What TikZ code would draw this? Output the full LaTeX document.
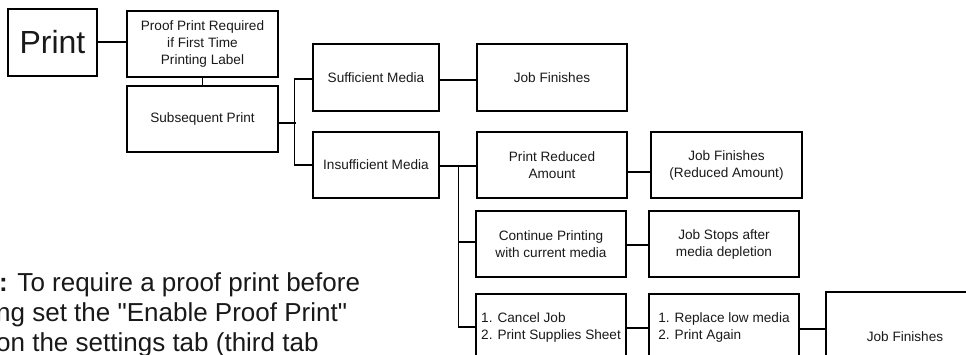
\documentclass[tikz,border=0pt]{standalone}
\usepackage{fontspec}
\setmainfont{Liberation Sans}
\begin{document}
\begin{tikzpicture}[x=1pt,y=-1pt,
  box/.style={draw,line width=1.2pt,inner sep=0pt,minimum width=150pt,minimum height=66pt,align=center,font=\fontsize{13.6}{17}\selectfont,text=black!90},
  conn/.style={line width=1.2pt},
  notetext/.style={anchor=base west,inner sep=0pt,font=\fontsize{26}{30}\selectfont,text=black!90}]
\useasboundingbox (0,0) rectangle (966,354);
\clip (0,0) rectangle (966,354);

\node[box,minimum width=89pt,minimum height=67pt,font=\fontsize{32}{36}\selectfont] (print) at (52.5,42.5) {Print};
\node[box,minimum width=151pt] (proof) at (202.5,44) {Proof Print Required\\if First Time\\ Printing Label};
\node[box,minimum width=151pt] (subs) at (202.5,119) {Subsequent Print};
\node[box,minimum width=126pt,minimum height=67pt] (suff) at (376,77.5) {Sufficient Media};
\node[box,minimum height=67pt] (jf1) at (552,77.5) {Job Finishes};
\node[box,minimum width=126pt] (insuff) at (376,165) {Insufficient Media};
\node[box] (reduced) at (552,165) {Print Reduced\\Amount};
\node[box,minimum width=151pt] (jfred) at (726.5,165) {Job Finishes\\(Reduced Amount)};
\node[box] (cont) at (551,244) {Continue Printing\\with current media};
\node[box] (stops) at (724,244) {Job Stops after\\media depletion};
\node[box,align=left] (cancel) at (551,327) {1. Cancel Job\\2. Print Supplies Sheet};
\node[box,align=left] (replace) at (724,327) {1. Replace low media\\2. Print Again};
\node[box,minimum width=158pt,minimum height=90pt] (jf3) at (905,337) {Job Finishes};

% connectors
\draw[conn] ([yshift=0.5pt]print.east) -- ([yshift=0.5pt]print.east -| proof.west);
\draw[conn] (proof.south) -- (subs.north);
\draw[conn] ([yshift=-4pt]subs.east) -- ++(17,0) coordinate (b1);
\draw[conn] ([yshift=-1.5pt]suff.west) -- ++(-18,0) coordinate (b1t) -- (b1t |- insuff.west) -- (insuff.west);
\draw[conn] ([yshift=-2.5pt]suff.east) -- ([yshift=-2.5pt]jf1.west);
\draw[conn] ([yshift=-1pt]insuff.east) -- ([yshift=-1pt]reduced.west);
\draw[conn] ([yshift=-7pt]reduced.east) -- ([yshift=-7pt]jfred.west);
\draw[conn] (cancel.west) -- ++(-17,0) coordinate (vb) -- ([yshift=-1pt]vb |- insuff.east);
\draw[conn] ([yshift=2pt]cont.west) -- ([yshift=2pt]cont.west -| vb);
\draw[conn] ([yshift=-1pt]cont.east) -- ([yshift=-1pt]stops.west);
\draw[conn] ([yshift=-1pt]cancel.east) -- ([yshift=-1pt]replace.west);
\draw[conn] ([yshift=-2pt]replace.east) -- ([yshift=-2pt]replace.east -| jf3.west);

% note (cut off by the frame, as in the reference)
\node[notetext] (note1) at (-1,291) {\textbf{:} To require a proof print before};
\node[notetext] (note2) at (-4,321) {ng set the \textquotedbl Enable Proof Print\textquotedbl};
\node[notetext] (note3) at (-4,351) {on the settings tab (third tab};
\end{tikzpicture}
\end{document}
